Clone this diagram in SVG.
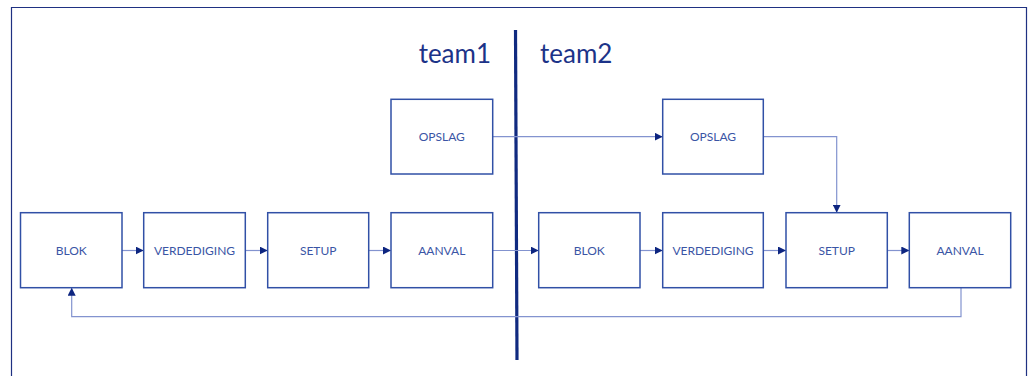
<svg xmlns="http://www.w3.org/2000/svg" width="1030" height="376" viewBox="0 0 1030 376">
<defs>
<style>
.box{fill:#ffffff;stroke:#3150a6;stroke-width:1.5}
.lbl{font-family:Lato,"Open Sans","Liberation Sans",sans-serif;font-size:12px;fill:#3a55a5;text-anchor:middle}
.team{font-family:Lato,"Open Sans","Liberation Sans",sans-serif;font-size:26px;fill:#1c3388}
.con{fill:none;stroke:#8393cf;stroke-width:1.2}
</style>
<marker id="ah" viewBox="0 0 8 8" refX="8" refY="4" markerWidth="8" markerHeight="8" markerUnits="userSpaceOnUse" orient="auto">
<path d="M0,0 L8,4 L0,8 Z" fill="#0d2580"/>
</marker>
</defs>
<rect width="1030" height="376" fill="#ffffff"/>
<path d="M11.5,380 V7.5 H1026.5 V380" fill="none" stroke="#1f3182" stroke-width="1.2"/>
<g id="divider">
<line x1="515.5" y1="30" x2="517" y2="360" stroke="#102a80" stroke-width="3.2"/>
<text class="team" x="491" y="63" text-anchor="end">team1</text>
<text class="team" x="540" y="63">team2</text>
</g>
<g id="connectors">
<line class="con" x1="122" y1="250.5" x2="143.7" y2="250.5" marker-end="url(#ah)"/>
<line class="con" x1="245.3" y1="250.5" x2="267.7" y2="250.5" marker-end="url(#ah)"/>
<line class="con" x1="368.7" y1="250.5" x2="391" y2="250.5" marker-end="url(#ah)"/>
<line class="con" x1="492.7" y1="250.5" x2="538.7" y2="250.5" marker-end="url(#ah)"/>
<line class="con" x1="640" y1="250.5" x2="662.7" y2="250.5" marker-end="url(#ah)"/>
<line class="con" x1="763.3" y1="250.5" x2="786" y2="250.5" marker-end="url(#ah)"/>
<line class="con" x1="887.3" y1="250.5" x2="909.3" y2="250.5" marker-end="url(#ah)"/>
<line class="con" x1="492.7" y1="136.7" x2="662.7" y2="136.7" marker-end="url(#ah)"/>
<path class="con" d="M763.3,136.7 H836.7 V212.7" marker-end="url(#ah)"/>
<path class="con" d="M961,287.7 V316.7 H71.7 V287.7" marker-end="url(#ah)"/>
</g>
<g id="blok1"><rect class="box" x="20.5" y="212.7" width="101.5" height="75"/><text class="lbl" x="71.2" y="254.5">BLOK</text></g>
<g id="verdediging1"><rect class="box" x="143.7" y="212.7" width="101.6" height="75"/><text class="lbl" x="194.5" y="254.5">VERDEDIGING</text></g>
<g id="setup1"><rect class="box" x="267.7" y="212.7" width="101" height="75"/><text class="lbl" x="318.2" y="254.5">SETUP</text></g>
<g id="aanval1"><rect class="box" x="391" y="212.7" width="101.7" height="75"/><text class="lbl" x="441.8" y="254.5">AANVAL</text></g>
<g id="opslag1"><rect class="box" x="391" y="99.3" width="101.7" height="74.7"/><text class="lbl" x="441.8" y="141">OPSLAG</text></g>
<g id="blok2"><rect class="box" x="538.7" y="212.7" width="101.3" height="75"/><text class="lbl" x="589.3" y="254.5">BLOK</text></g>
<g id="verdediging2"><rect class="box" x="662.7" y="212.7" width="100.6" height="75"/><text class="lbl" x="713" y="254.5">VERDEDIGING</text></g>
<g id="setup2"><rect class="box" x="786" y="212.7" width="101.3" height="75"/><text class="lbl" x="836.7" y="254.5">SETUP</text></g>
<g id="aanval2"><rect class="box" x="909.3" y="212.7" width="101.4" height="75"/><text class="lbl" x="960" y="254.5">AANVAL</text></g>
<g id="opslag2"><rect class="box" x="662.7" y="99.3" width="100.6" height="74.7"/><text class="lbl" x="713" y="141">OPSLAG</text></g>
</svg>
